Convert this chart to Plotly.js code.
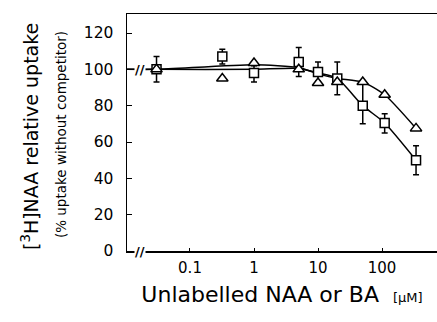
<!DOCTYPE html>
<html>
<head>
<meta charset="utf-8">
<script src="https://cdn.plot.ly/plotly-3.0.1.min.js"></script>
<style>
  html, body { margin: 0; padding: 0; background: #fff; }
  #chart { width: 437px; height: 322px; }
</style>
</head>
<body>
<div id="chart"></div>
<script>
// Concentrations of unlabelled competitor (µM)
const conc = [0.03, 0.32, 1, 5, 10, 20, 50, 110, 340];
// Square series (mean, error bars)
const squareUptake   = [100, 107, 98, 104, 98.5, 95, 80, 70.5, 50];
const squareErrPlus  = [7, 4, 4, 8, 5.5, 9, 13, 5, 8];
const squareErrMinus = [7, 4, 5, 8, 5, 9, 10, 5.5, 8];
// Triangle series
const triangleUptake = [100, 95, 103.5, 100, 92.5, 93, 93, 86, 67.5];
// Fitted curves, starting at the y axis (no competitor)
const fitConc     = [0.0104, 0.03, 1, 5, 10, 20, 50, 110, 340];
const squareFit   = [100, 100, 100, 100.5, 98, 95, 80, 70.5, 50];
const triangleFit = [100, 100, 102.5, 101, 97.5, 95, 93, 86, 67.5];
// Axis ticks
const xTickVals = [0.1, 1, 10, 100];
const xTickText = ['0.1', '1', '10', '100'];
const yTickVals = [0, 20, 40, 60, 80, 100, 120];
// Axis break position
const breakX = 0.0165;

const FONT = 'DejaVu Sans, Arial, sans-serif';

const traces = [
  {
    x: fitConc, y: squareFit, mode: 'lines', type: 'scatter',
    line: {color: '#000', width: 1.5, shape: 'spline', smoothing: 0.6},
    hoverinfo: 'skip', showlegend: false
  },
  {
    x: fitConc, y: triangleFit, mode: 'lines', type: 'scatter',
    line: {color: '#000', width: 1.5, shape: 'spline', smoothing: 0.6},
    hoverinfo: 'skip', showlegend: false
  },
  {
    x: conc, y: squareUptake, mode: 'markers', type: 'scatter', name: 'squares',
    marker: {symbol: 'square', size: 9, color: '#fff', line: {color: '#000', width: 1.5}},
    error_y: {type: 'data', symmetric: false, array: squareErrPlus, arrayminus: squareErrMinus,
              color: '#000', thickness: 1.5, width: 3},
    showlegend: false
  },
  {
    x: conc, y: triangleUptake, mode: 'markers', type: 'scatter', name: 'triangles',
    marker: {symbol: 'triangle-up', size: 10, color: '#fff', line: {color: '#000', width: 1.5}},
    showlegend: false
  }
];

const layout = {
  width: 437, height: 322,
  margin: {l: 127, r: 0, t: 14, b: 71, pad: 0},
  paper_bgcolor: '#fff', plot_bgcolor: '#fff',
  font: {family: FONT, color: '#000'},
  showlegend: false,
  xaxis: {
    type: 'log', range: [-1.984, 2.859],
    tickvals: xTickVals, ticktext: xTickText,
    ticks: 'inside', ticklen: 3, tickwidth: 1, tickcolor: '#000',
    showline: true, linecolor: '#000', linewidth: 1.5, mirror: true,
    showgrid: false, zeroline: false,
    tickfont: {family: FONT, size: 15, color: '#000'},
    ticklabelstandoff: 2,
    title: {
      text: 'Unlabelled NAA or BA  <span style="font-size:13px">[µM]</span>',
      font: {family: FONT, size: 22, color: '#000'},
      standoff: 11
    }
  },
  yaxis: {
    range: [0, 130.46],
    tickvals: yTickVals,
    ticks: 'inside', ticklen: 5, tickwidth: 1, tickcolor: '#000',
    showline: true, linecolor: '#000', linewidth: 1.5,
    showgrid: false, zeroline: false,
    tickfont: {family: FONT, size: 15.5, color: '#000'},
    ticklabelstandoff: 9
  },
  annotations: [
    {
      xref: 'paper', yref: 'paper', x: -0.3129, y: 0.481,
      xanchor: 'center', yanchor: 'middle', textangle: -90, showarrow: false,
      text: '[<sup>3</sup>H]NAA relative uptake',
      font: {family: FONT, size: 19, color: '#000'}
    },
    {
      xref: 'paper', yref: 'paper', x: -0.2129, y: 0.489,
      xanchor: 'center', yanchor: 'middle', textangle: -90, showarrow: false,
      text: '(% uptake without competitor)',
      font: {family: FONT, size: 13.5, color: '#000'}
    },
    {
      xref: 'x', yref: 'y', x: Math.log10(breakX), y: 0,
      xanchor: 'center', yanchor: 'middle', showarrow: false,
      text: '<b>//</b>', bgcolor: '#fff', borderpad: 0,
      font: {family: FONT, size: 13, color: '#000'}
    },
    {
      xref: 'x', yref: 'y', x: Math.log10(breakX), y: 100,
      xanchor: 'center', yanchor: 'middle', showarrow: false,
      text: '<b>//</b>', bgcolor: '#fff', borderpad: 0,
      font: {family: FONT, size: 13, color: '#000'}
    }
  ]
};

Plotly.newPlot('chart', traces, layout, {staticPlot: true, displayModeBar: false});
</script>
</body>
</html>
